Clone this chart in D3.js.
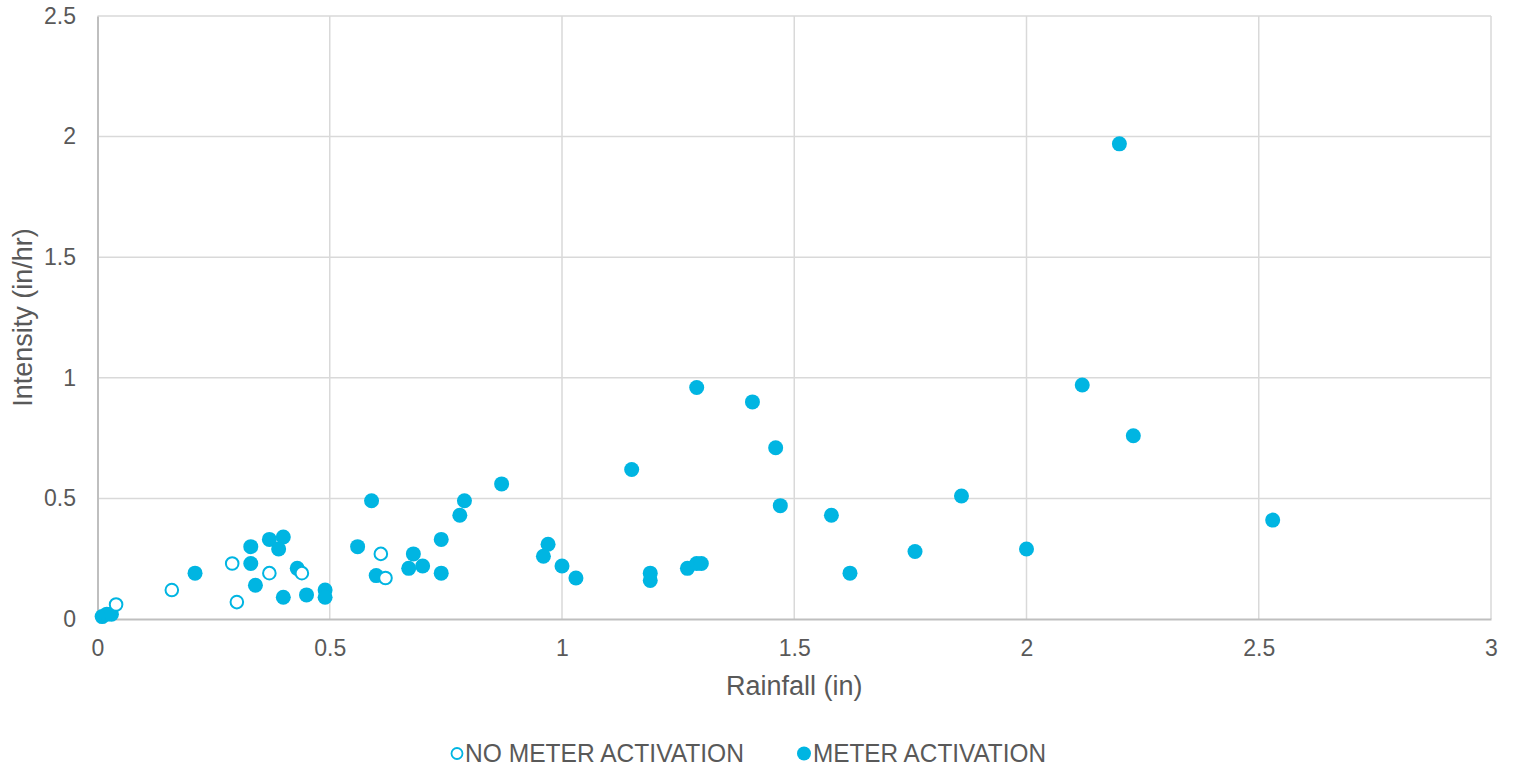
<!DOCTYPE html>
<html>
<head>
<meta charset="utf-8">
<script src="https://cdn.jsdelivr.net/npm/d3@7"></script>
<style>
  body { margin: 0; background: #fff; }
  text { font-family: "Liberation Sans", Arial, sans-serif; fill: #595959; }
</style>
</head>
<body>
<div id="chart"></div>
<script>
// rainfall (in) vs intensity (in/hr)
var noMeterX = [0.04, 0.16, 0.29, 0.30, 0.37, 0.44, 0.61, 0.62];
var noMeterY = [0.06, 0.12, 0.23, 0.07, 0.19, 0.19, 0.27, 0.17];

var meterX = [0.01, 0.02, 0.03, 0.21, 0.33, 0.33, 0.34, 0.37, 0.40, 0.39, 0.43, 0.40, 0.45, 0.49, 0.49,
  0.59, 0.56, 0.60, 0.68, 0.67, 0.70, 0.74, 0.74, 0.78, 0.79, 0.87, 0.97, 0.96, 1.00, 1.03,
  1.29, 1.41, 1.46, 1.15, 1.47, 1.58, 1.86, 1.76, 1.62, 1.19, 1.19, 1.27, 1.29, 1.30,
  2.00, 2.12, 2.20, 2.23, 2.53];
var meterY = [0.01, 0.02, 0.02, 0.19, 0.30, 0.23, 0.14, 0.33, 0.34, 0.29, 0.21, 0.09, 0.10, 0.12, 0.09,
  0.49, 0.30, 0.18, 0.27, 0.21, 0.22, 0.33, 0.19, 0.43, 0.49, 0.56, 0.31, 0.26, 0.22, 0.17,
  0.96, 0.90, 0.71, 0.62, 0.47, 0.43, 0.51, 0.28, 0.19, 0.19, 0.16, 0.21, 0.23, 0.23,
  0.29, 0.97, 1.97, 0.76, 0.41];

var xTicks = [0, 0.5, 1, 1.5, 2, 2.5, 3];
var yTicks = [0, 0.5, 1, 1.5, 2, 2.5];

var width = 1513, height = 771;
var margin = {top: 16, right: 22, bottom: 152, left: 97.5};
var color = "#00b5e2";

var svg = d3.select('#chart').append('svg')
    .attr("width", width)
    .attr("height", height);

var x = d3.scaleLinear().domain([0, 3]).range([margin.left, width - margin.right]);
var y = d3.scaleLinear().domain([0, 2.5]).range([height - margin.bottom, margin.top]);

// gridlines
svg.append("g")
    .selectAll("line")
    .data(xTicks.slice(1))
    .enter().append("line")
    .attr("x1", d => x(d)).attr("x2", d => x(d))
    .attr("y1", y(0)).attr("y2", y(2.5))
    .attr("stroke", "#d9d9d9").attr("stroke-width", 1.5);

svg.append("g")
    .selectAll("line")
    .data(yTicks.slice(1))
    .enter().append("line")
    .attr("x1", x(0)).attr("x2", x(3))
    .attr("y1", d => y(d)).attr("y2", d => y(d))
    .attr("stroke", "#d9d9d9").attr("stroke-width", 1.5);

// axes
var xAxis = svg.append("g")
    .attr("transform", "translate(0," + y(0) + ")")
    .call(d3.axisBottom(x).tickValues(xTicks).tickSize(0).tickPadding(21).tickFormat(d3.format("")));
var yAxis = svg.append("g")
    .attr("transform", "translate(" + x(0) + ",0)")
    .call(d3.axisLeft(y).tickValues(yTicks).tickSize(0).tickPadding(21.5).tickFormat(d3.format("")));

[xAxis, yAxis].forEach(function (a) {
    a.select(".domain").attr("stroke", "#bfbfbf").attr("stroke-width", 2);
    a.selectAll("text").attr("font-size", 23).attr("fill", "#595959")
        .style("font-family", "'Liberation Sans', Arial, sans-serif");
});

// axis titles
svg.append("text")
    .attr("x", (x(0) + x(3)) / 2).attr("y", 695)
    .attr("text-anchor", "middle").attr("font-size", 27)
    .text("Rainfall (in)");
svg.append("text")
    .attr("transform", "translate(32," + (y(0) + y(2.5)) / 2 + ") rotate(-90)")
    .attr("text-anchor", "middle").attr("font-size", 27)
    .text("Intensity (in/hr)");

// points
svg.append("g")
    .selectAll("circle")
    .data(d3.zip(meterX, meterY))
    .enter().append("circle")
    .attr("cx", d => x(d[0])).attr("cy", d => y(d[1]))
    .attr("r", 7.5).attr("fill", color);

svg.append("g")
    .selectAll("circle")
    .data(d3.zip(noMeterX, noMeterY))
    .enter().append("circle")
    .attr("cx", d => x(d[0])).attr("cy", d => y(d[1]))
    .attr("r", 6.3).attr("fill", "#fff")
    .attr("stroke", color).attr("stroke-width", 2);

// legend
var legend = svg.append("g");
legend.append("circle").attr("cx", 457).attr("cy", 753.5).attr("r", 5.5)
    .attr("fill", "#fff").attr("stroke", color).attr("stroke-width", 1.8);
legend.append("text").attr("x", 465).attr("y", 762).attr("font-size", 25)
    .attr("textLength", 279).attr("lengthAdjust", "spacingAndGlyphs")
    .text("NO METER ACTIVATION");
legend.append("circle").attr("cx", 804).attr("cy", 753.5).attr("r", 7).attr("fill", color);
legend.append("text").attr("x", 813).attr("y", 762).attr("font-size", 25)
    .attr("textLength", 233).attr("lengthAdjust", "spacingAndGlyphs")
    .text("METER ACTIVATION");
</script>
</body>
</html>
